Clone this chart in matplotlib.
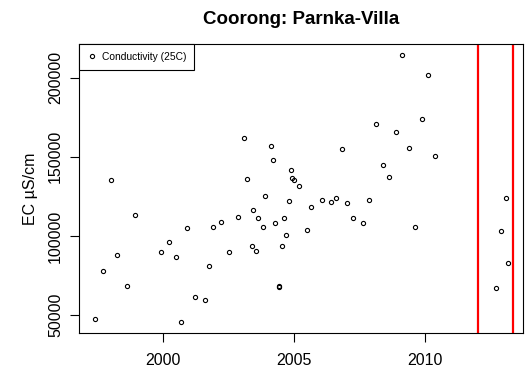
import matplotlib
matplotlib.use("Agg")
import matplotlib.pyplot as plt

# Sample dates (decimal years) and electrical conductivity at 25C (uS/cm)
years = [
    1997.39, 1997.69, 1997.99, 1998.24, 1998.61, 1998.91, 1999.91, 2000.21,
    2000.47, 2000.69, 2000.89, 2001.21, 2001.58, 2001.76, 2001.91, 2002.20,
    2002.50, 2002.86, 2003.09, 2003.19, 2003.39, 2003.42, 2003.54, 2003.61,
    2003.79, 2003.89, 2004.12, 2004.20, 2004.27, 2004.40, 2004.43, 2004.53,
    2004.61, 2004.68, 2004.79, 2004.86, 2004.90, 2004.98, 2005.17, 2005.50,
    2005.65, 2006.05, 2006.39, 2006.60, 2006.82, 2007.01, 2007.24, 2007.62,
    2007.86, 2008.13, 2008.39, 2008.60, 2008.87, 2009.12, 2009.38, 2009.61,
    2009.86, 2010.09, 2010.37, 2012.69, 2012.89, 2013.08, 2013.16,
]
conductivity = [
    47500, 77600, 135500, 88100, 68300, 113400, 89800, 96100,
    86900, 45600, 105000, 61600, 59700, 80800, 105400, 109000,
    90000, 112100, 162100, 136200, 93300, 116600, 90600, 111100,
    105400, 125000, 156600, 147800, 108000, 67800, 68300, 93300,
    111100, 100400, 122200, 141700, 136800, 135500, 131300, 103500,
    118500, 122700, 121400, 124000, 154700, 120800, 111500, 108000,
    122700, 170700, 144800, 137400, 165900, 214500, 155400, 105400,
    173900, 201700, 150500, 67100, 102900, 124000, 82700,
]
# Vertical markers for the recent sampling period
period_marks = [2012.0, 2013.33]

x_ticks = [2000, 2005, 2010]
y_ticks = [50000, 100000, 150000, 200000]

plt.rcParams["font.family"] = ["Liberation Sans", "DejaVu Sans"]

W, H = 525, 376
fig = plt.figure(figsize=(W / 100, H / 100), dpi=100)
left, right, top, bottom = 79, 523, 44.3, 333.3
ax = fig.add_axes([left / W, 1 - bottom / H, (right - left) / W, (bottom - top) / H])

ax.plot(years, conductivity, "o", ms=3.0, mfc="none", mec="black", mew=0.8,
        label="Conductivity (25C)")
for xv in period_marks:
    ax.axvline(xv, color="red", lw=1.6)

ax.set_xlim(1996.78, 2013.73)
ax.set_ylim(38430, 221100)
ax.set_xticks(x_ticks)
ax.set_xticklabels([str(t) for t in x_ticks])
ax.set_yticks(y_ticks)
ax.set_yticklabels([str(t) for t in y_ticks], rotation=90, va="center")

ax.tick_params(axis="both", direction="out", length=6.5, width=0.8,
               labelsize=11.5, colors="black")
ax.tick_params(axis="x", pad=8)
ax.tick_params(axis="y", pad=5)
for s in ax.spines.values():
    s.set_linewidth(0.8)
    s.set_color("black")

ax.set_title("Coorong: Parnka-Villa", fontsize=13.5, fontweight="bold", pad=14.4)
fig.text(31 / W, 1 - 188.7 / H, "EC µS/cm", rotation=90, ha="center", va="center",
         fontsize=11.5)

leg = ax.legend(loc="upper left", borderaxespad=0, fontsize=7.4, frameon=True,
                fancybox=False, framealpha=1, edgecolor="black",
                handlelength=1.0, handletextpad=0.5, borderpad=0.75)
leg.get_frame().set_linewidth(0.8)

fig.savefig("out.png", dpi=100)
